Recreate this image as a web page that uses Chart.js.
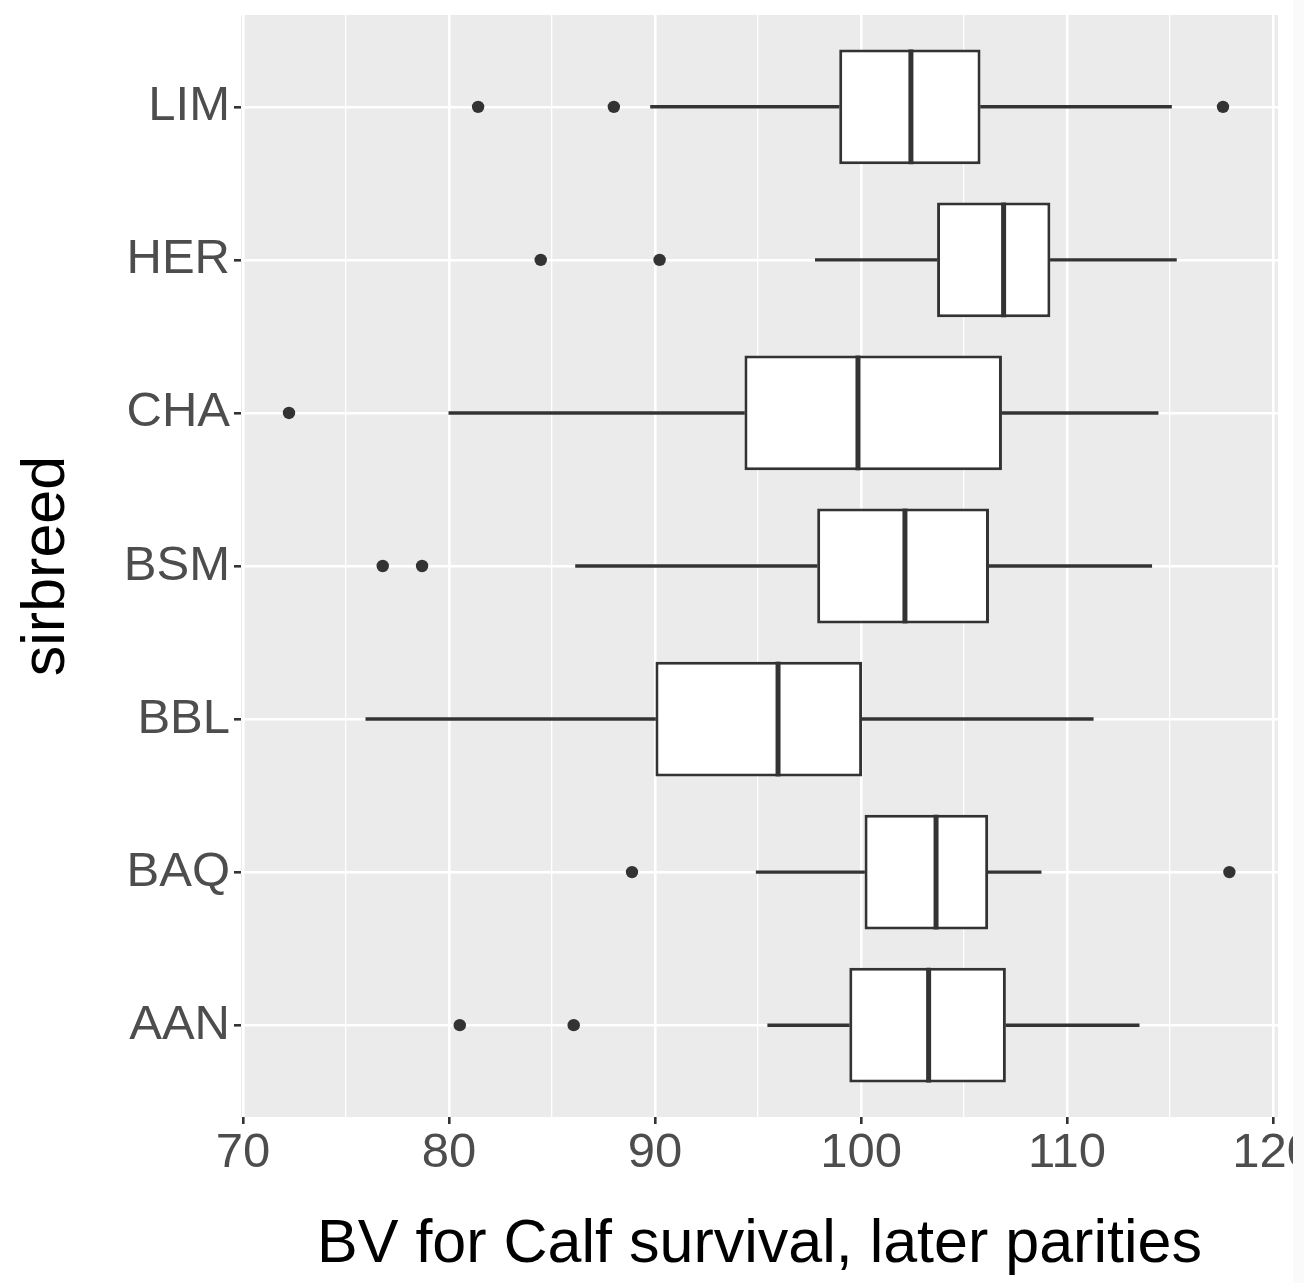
<!DOCTYPE html>
<html>
<head>
<meta charset="utf-8">
<script src="https://cdn.jsdelivr.net/npm/chart.js@4.4.1/dist/chart.umd.min.js"></script>
<style>
  html, body { margin: 0; padding: 0; background: #ffffff; }
  #wrap { width: 1304px; height: 1283px; position: relative; overflow: hidden; background: #fafafa; }
  canvas { position: absolute; left: 0; top: 0; background: #ffffff; }
</style>
</head>
<body>
<div id="wrap"><canvas id="c" width="1293" height="1283"></canvas></div>
<script>
// ---- data ----
const categories  = ['LIM', 'HER', 'CHA', 'BSM', 'BBL', 'BAQ', 'AAN'];
const whiskerLow  = [89.78, 97.78, 79.99, 86.14, 75.96, 94.91, 95.47];
const q1Values    = [98.94, 103.69, 94.34, 97.87, 90.02, 100.17, 99.43];
const medians     = [102.42, 106.92, 99.85, 102.13, 95.97, 103.64, 103.28];
const q3Values    = [105.80, 109.19, 106.84, 106.21, 100.05, 106.17, 107.03];
const whiskerHigh = [115.07, 115.31, 114.42, 114.11, 111.27, 108.74, 113.50];
const outliers    = [[81.41, 88.0, 117.57], [84.45, 90.22], [72.23], [76.78, 78.69], [], [88.88, 117.88], [80.52, 86.05]];
const xTickValues = [70, 75, 80, 85, 90, 95, 100, 105, 110, 115, 120];
const xTitle = 'BV for Calf survival, later parities';
const yTitle = 'sirbreed';

// ---- styling constants ----
const INK = '#333333';
const BOX_WIDTH = 0.75;           // in category units
const FONT = "'Liberation Sans', Arial, Helvetica, sans-serif";

const boxData = categories.map((c, i) => ({ y: i, x: [q1Values[i], q3Values[i]] }));
const lowWhiskers = categories.map((c, i) => ({ y: i, x: [whiskerLow[i], q1Values[i]] }));
const highWhiskers = categories.map((c, i) => ({ y: i, x: [q3Values[i], whiskerHigh[i]] }));
const outlierPoints = [];
outliers.forEach((arr, i) => arr.forEach(v => outlierPoints.push({ x: v, y: i })));

const panelBg = {
  id: 'panelBg',
  beforeDraw(chart) {
    const { ctx, chartArea: a } = chart;
    ctx.save();
    ctx.fillStyle = '#EBEBEB';
    ctx.fillRect(a.left, a.top, a.right - a.left, a.bottom - a.top);
    ctx.restore();
  }
};

const medianLines = {
  id: 'medianLines',
  afterDatasetsDraw(chart) {
    const { ctx } = chart;
    const xs = chart.scales.x, ys = chart.scales.y;
    ctx.save();
    ctx.strokeStyle = INK;
    ctx.lineWidth = 5;
    ctx.lineCap = 'butt';
    medians.forEach((m, i) => {
      const px = xs.getPixelForValue(m);
      const y0 = ys.getPixelForValue(i - BOX_WIDTH / 2);
      const y1 = ys.getPixelForValue(i + BOX_WIDTH / 2);
      ctx.beginPath();
      ctx.moveTo(px, y0);
      ctx.lineTo(px, y1);
      ctx.stroke();
    });
    ctx.restore();
  }
};

new Chart(document.getElementById('c'), {
  type: 'bar',
  data: {
    datasets: [
      {
        type: 'scatter',
        label: 'outliers',
        data: outlierPoints,
        xAxisID: 'x', yAxisID: 'y',
        pointRadius: 6.2,
        pointHoverRadius: 6.2,
        pointBackgroundColor: INK,
        pointBorderWidth: 0,
        showLine: false
      },
      {
        label: 'box',
        data: boxData,
        xAxisID: 'x', yAxisID: 'y',
        grouped: false,
        backgroundColor: '#FFFFFF',
        borderColor: INK,
        borderWidth: 3,
        borderSkipped: false,
        barPercentage: BOX_WIDTH,
        categoryPercentage: 1.0
      },
      {
        label: 'whiskerLow',
        data: lowWhiskers,
        xAxisID: 'x', yAxisID: 'y',
        grouped: false,
        backgroundColor: INK,
        borderWidth: 0,
        maxBarThickness: 2.8,
        barPercentage: 1, categoryPercentage: 1
      },
      {
        label: 'whiskerHigh',
        data: highWhiskers,
        xAxisID: 'x', yAxisID: 'y',
        grouped: false,
        backgroundColor: INK,
        borderWidth: 0,
        maxBarThickness: 2.8,
        barPercentage: 1, categoryPercentage: 1
      }
    ]
  },
  options: {
    indexAxis: 'y',
    responsive: false,
    animation: false,
    devicePixelRatio: 1,
    layout: { padding: { left: 0, right: 15, top: 15, bottom: 0 } },
    plugins: { legend: { display: false }, tooltip: { enabled: false } },
    events: [],
    scales: {
      x: {
        type: 'linear',
        position: 'bottom',
        min: 69.9,
        max: 120.24,
        offset: false,
        afterBuildTicks(scale) { scale.ticks = xTickValues.map(v => ({ value: v })); },
        afterFit(scale) { scale.height = 166; scale.paddingLeft = 0; scale.paddingRight = 0; },
        grid: {
          offset: false,
          color: '#FFFFFF',
          lineWidth: (c) => (c.tick && c.tick.value % 10 === 0) ? 2.6 : 1.3,
          tickColor: (c) => (c.tick && c.tick.value % 10 === 0) ? INK : 'rgba(0,0,0,0)',
          tickWidth: 2.6,
          tickLength: 7,
          drawTicks: true
        },
        border: { display: false },
        ticks: {
          autoSkip: false,
          maxRotation: 0,
          minRotation: 0,
          padding: 0,
          color: '#4D4D4D',
          font: { family: FONT, size: 49 },
          callback: (v) => (v % 10 === 0 ? String(v) : '')
        },
        title: {
          display: true,
          text: xTitle,
          color: '#000000',
          font: { family: FONT, size: 61 },
          padding: { top: 0, bottom: 1 }
        }
      },
      y: {
        type: 'linear',
        position: 'left',
        reverse: true,
        min: -0.6,
        max: 6.6,
        offset: false,
        afterBuildTicks(scale) { scale.ticks = categories.map((c, i) => ({ value: i })); },
        afterFit(scale) { scale.width = 241; scale.paddingTop = 0; scale.paddingBottom = 0; },
        grid: {
          offset: false,
          color: '#FFFFFF',
          lineWidth: 2.6,
          tickColor: INK,
          tickWidth: 2.6,
          tickLength: 7,
          drawTicks: true
        },
        border: { display: false },
        ticks: {
          autoSkip: false,
          padding: 4,
          color: '#4D4D4D',
          font: { family: FONT, size: 49 },
          callback: (v) => categories[v]
        },
        title: {
          display: true,
          text: yTitle,
          color: '#000000',
          font: { family: FONT, size: 61 },
          padding: { top: 11, bottom: 0 }
        }
      }
    }
  },
  plugins: [panelBg, medianLines]
});
</script>
</body>
</html>
